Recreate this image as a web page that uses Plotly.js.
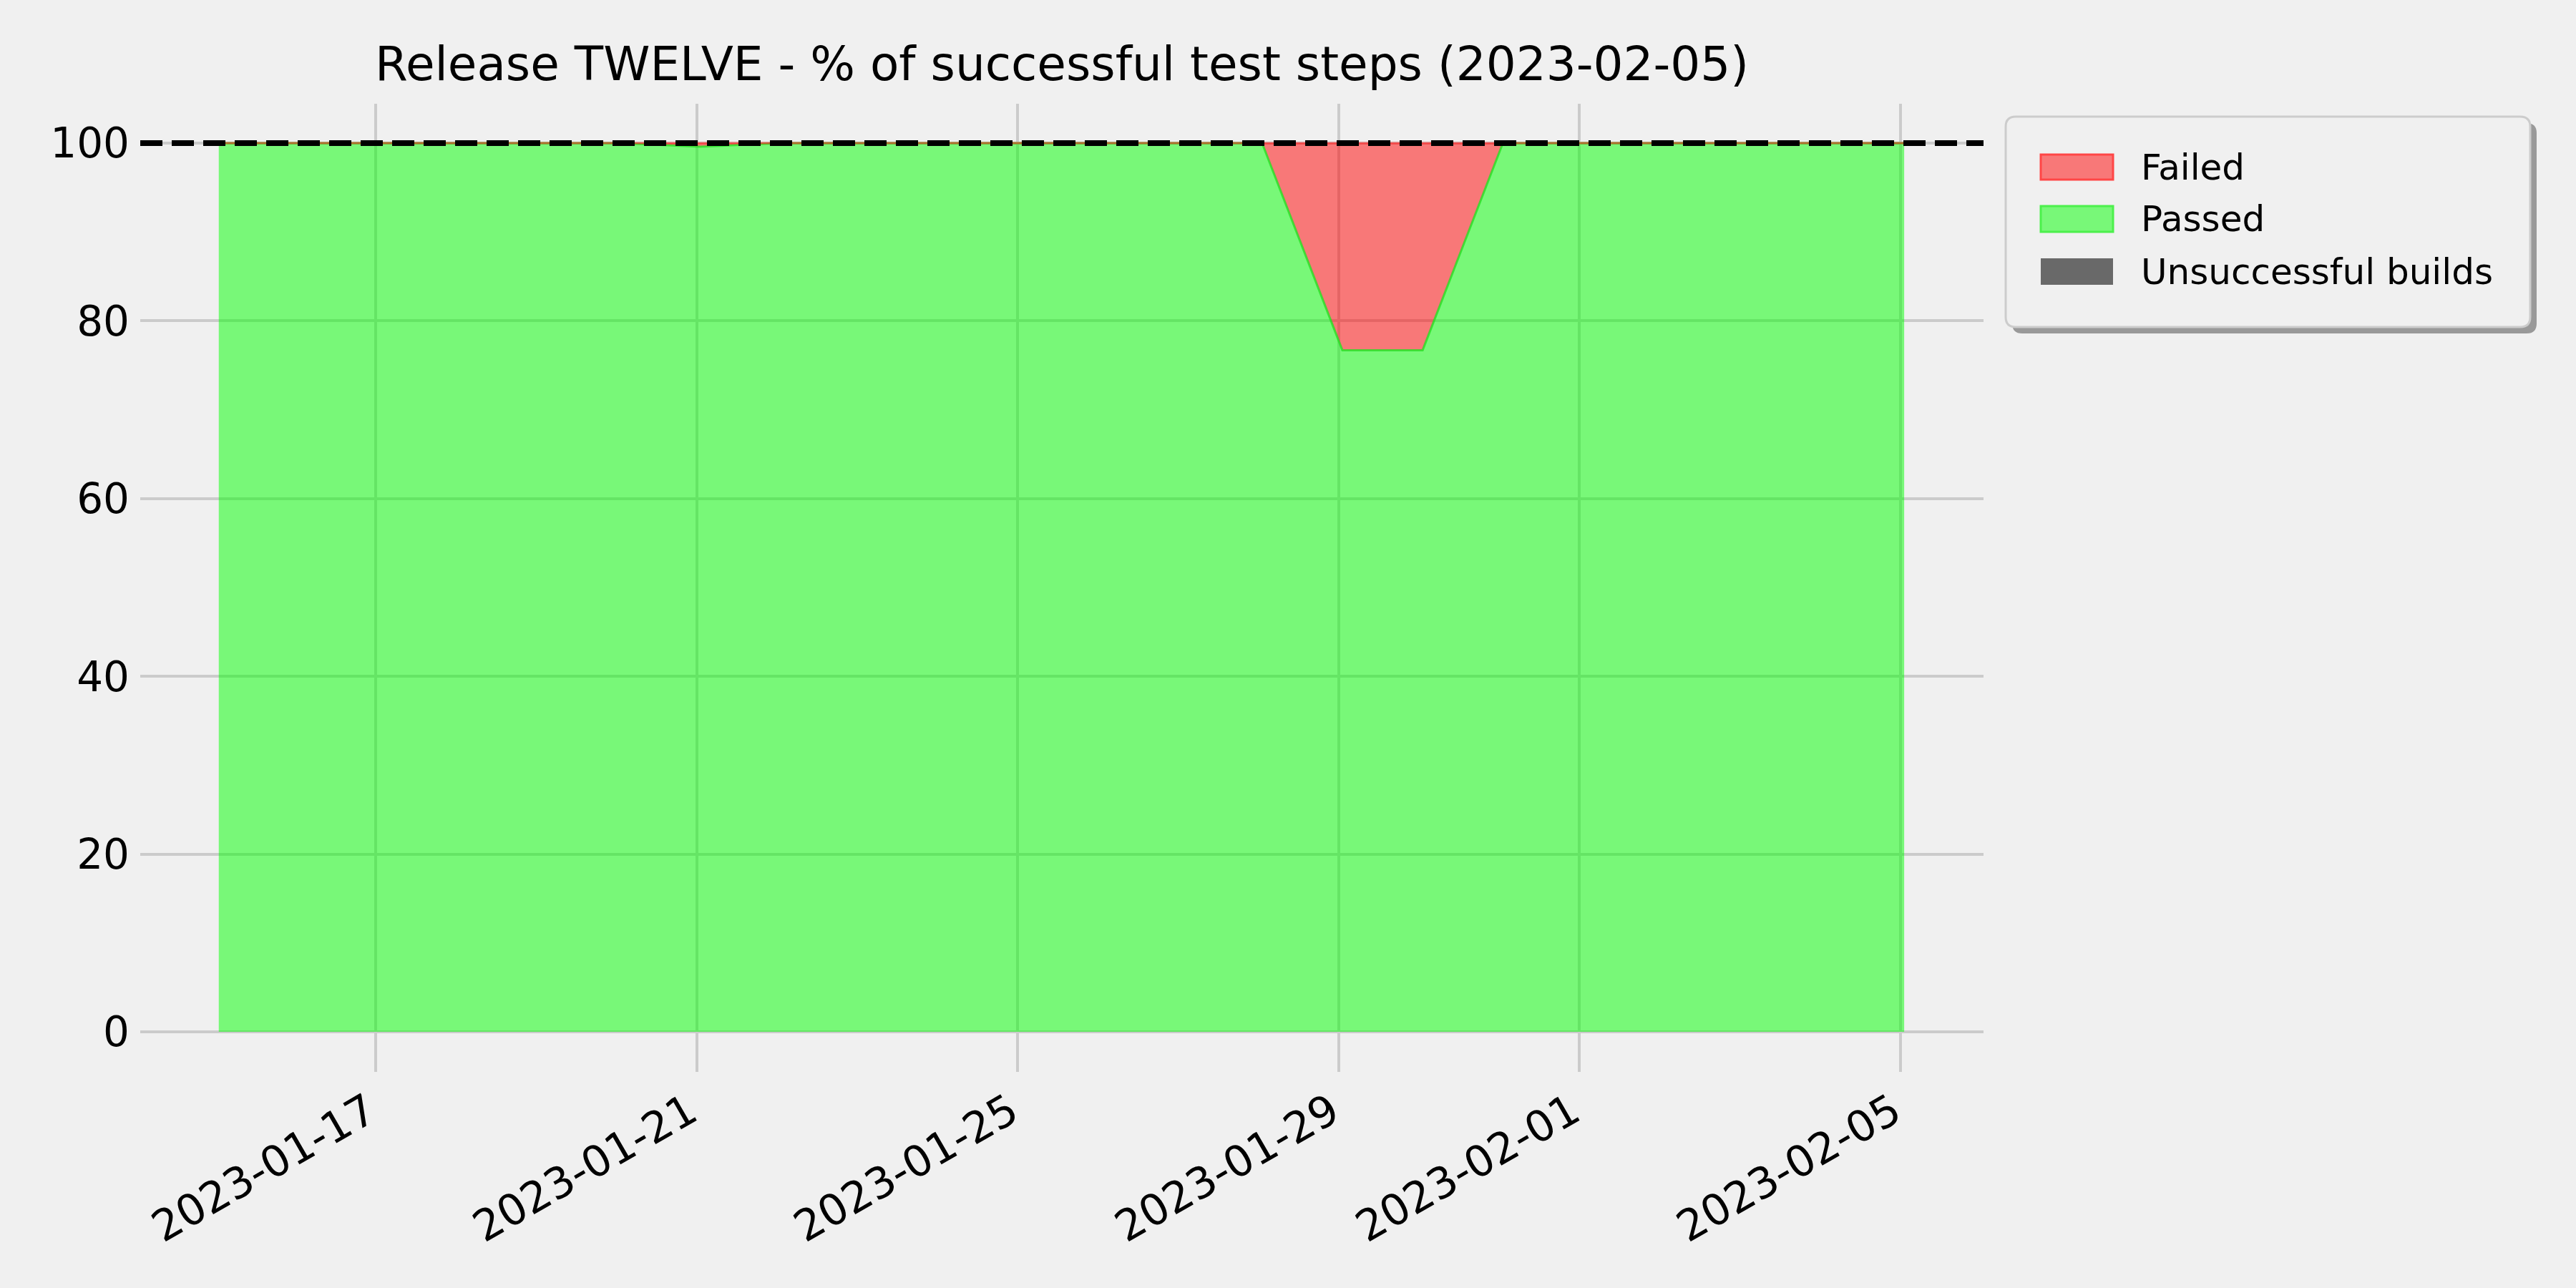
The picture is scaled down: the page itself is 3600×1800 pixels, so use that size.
<!DOCTYPE html>
<html>
<head>
<meta charset="utf-8">
<script src="https://cdn.plot.ly/plotly-3.0.1.min.js"></script>
<style>html,body{margin:0;padding:0;background:#f0f0f0;}#chart{width:3600px;height:1800px;}</style>
</head>
<body>
<div id="chart"></div>
<script>
// ---- data ----
const dates = [
  "2023-01-15 01:05","2023-01-16 01:05","2023-01-17 01:05","2023-01-18 01:05",
  "2023-01-19 01:05","2023-01-20 01:05","2023-01-21 01:05","2023-01-22 01:05",
  "2023-01-23 01:05","2023-01-24 01:05","2023-01-25 01:05","2023-01-26 01:05",
  "2023-01-27 01:05","2023-01-28 01:05","2023-01-29 01:05","2023-01-30 01:05",
  "2023-01-31 01:05","2023-02-01 01:05","2023-02-02 01:05","2023-02-03 01:05",
  "2023-02-04 01:05","2023-02-05 01:05"
];
const passed = [100,100,100,100,100,100,99.6,100,100,100,100,100,100,100,76.7,76.7,100,100,100,100,100,100];
const failed = [0,0,0,0,0,0,0.4,0,0,0,0,0,0,0,23.3,23.3,0,0,0,0,0,0];
const unsuccessfulBuilds = [0,0,0,0,0,0,0,0,0,0,0,0,0,0,0,0,0,0,0,0,0,0];
const tickDates = ["2023-01-17","2023-01-21","2023-01-25","2023-01-29","2023-02-01","2023-02-05"];
const tickLabels = ["2023-01-17","2023-01-21","2023-01-25","2023-01-29","2023-02-01","2023-02-05"];
const yTicks = [0,20,40,60,80,100];
const legendNames = ["Failed","Passed","Unsuccessful builds"];
const targetLine = 100;
const titleText = "Release TWELVE - % of successful test steps (2023-02-05)";

// ---- layout geometry (pixels) ----
const W = 3600, H = 1800;
const L = 196, R = 2772, T = 145, B = 1498;
const pw = R - L, ph = B - T;
const X = px => (px - L) / pw;
const Y = py => (B - py) / ph;
function roundRect(x0, y0, x1, y1, r) {
  const a = X(x0), b = X(x1), c = Y(y0), d = Y(y1);
  const rx = r / pw, ry = r / ph;
  return `M${a+rx},${c} L${b-rx},${c} Q${b},${c} ${b},${c-ry} L${b},${d+ry} Q${b},${d} ${b-rx},${d} ` +
         `L${a+rx},${d} Q${a},${d} ${a},${d+ry} L${a},${c-ry} Q${a},${c} ${a+rx},${c} Z`;
}
function rect(x0, y0, x1, y1, fill, line, lw) {
  return {type:'rect', xref:'paper', yref:'paper', x0:X(x0), x1:X(x1), y0:Y(y1), y1:Y(y0),
          fillcolor:fill, line:{color:line, width:lw}, layer:'above'};
}

const font = 'DejaVu Sans, Liberation Sans, sans-serif';

const traces = [
  {x:dates, y:passed, name:legendNames[1], type:'scatter', mode:'lines', stackgroup:'one',
   fillcolor:'rgba(0,255,0,0.5)', line:{color:'rgba(30,225,30,0.75)', width:3}, showlegend:false},
  {x:dates, y:failed, name:legendNames[0], type:'scatter', mode:'lines', stackgroup:'one',
   fillcolor:'rgba(255,0,0,0.5)', line:{color:'rgba(255,40,40,0.6)', width:3}, showlegend:false},
  {x:dates, y:unsuccessfulBuilds, name:legendNames[2], type:'scatter', mode:'lines', stackgroup:'one',
   fillcolor:'rgba(105,105,105,0.5)', line:{color:'rgba(105,105,105,0)', width:0}, showlegend:false}
];

// legend (drawn manually to match box with shadow)
const lgX0 = 2803, lgY0 = 163, lgX1 = 3536, lgY1 = 457;
const shapes = [
  {type:'line', xref:'paper', yref:'y', x0:0, x1:1, y0:targetLine, y1:targetLine,
   line:{color:'#000000', width:8, dash:'31px,13px'}, layer:'above'},
  {type:'path', xref:'paper', yref:'paper', path:roundRect(lgX0+9, lgY0+9, lgX1+9, lgY1+9, 14),
   fillcolor:'#999999', line:{color:'#999999', width:0}, layer:'above'},
  {type:'path', xref:'paper', yref:'paper', path:roundRect(lgX0, lgY0, lgX1, lgY1, 14),
   fillcolor:'#f0f0f0', line:{color:'#cccccc', width:3}, layer:'above'},
  rect(2852, 216, 2953, 251, '#f87878', '#ff4646', 3),
  rect(2852, 288, 2953, 324, '#78f878', '#4cf04c', 3),
  rect(2852, 361, 2953, 398, '#696969', '#696969', 0)
];
const legendRowsY = [234, 306, 380];
const annotations = legendNames.map((n, i) => ({
  text:n, xref:'paper', yref:'paper', x:X(2990), y:Y(legendRowsY[i]), xanchor:'left', yanchor:'middle',
  showarrow:false, font:{family:font, size:50, color:'#000000'}
}));

const layout = {
  width:W, height:H,
  paper_bgcolor:'#f0f0f0', plot_bgcolor:'#f0f0f0',
  margin:{l:L, r:W-R, t:T, b:H-B, pad:0},
  showlegend:false,
  font:{family:font, color:'#000000'},
  title:{text:titleText, font:{family:font, size:66, color:'#000000'},
         xref:'paper', x:0.5, xanchor:'center', yref:'container', y:1-89/1800, yanchor:'middle'},
  xaxis:{type:'date', range:["2023-01-14 01:36","2023-02-06 00:49"],
         tickvals:tickDates, ticktext:tickLabels, tickangle:-30,
         tickfont:{family:font, size:60, color:'#000000'},
         showgrid:true, gridcolor:'#cbcbcb', gridwidth:4, zeroline:false, showline:false, ticks:'',
         ticklabelstandoff:8, ticklabelshift:-10},
  yaxis:{range:[-4.51, 104.43], tickvals:yTicks,
         tickfont:{family:font, size:58, color:'#000000'},
         showgrid:true, gridcolor:'#cbcbcb', gridwidth:4, zeroline:false, showline:false, ticks:'',
         ticklabelstandoff:14},
  shapes:shapes,
  annotations:annotations
};

Plotly.newPlot('chart', traces, layout, {displayModeBar:false, staticPlot:true});
</script>
</body>
</html>
